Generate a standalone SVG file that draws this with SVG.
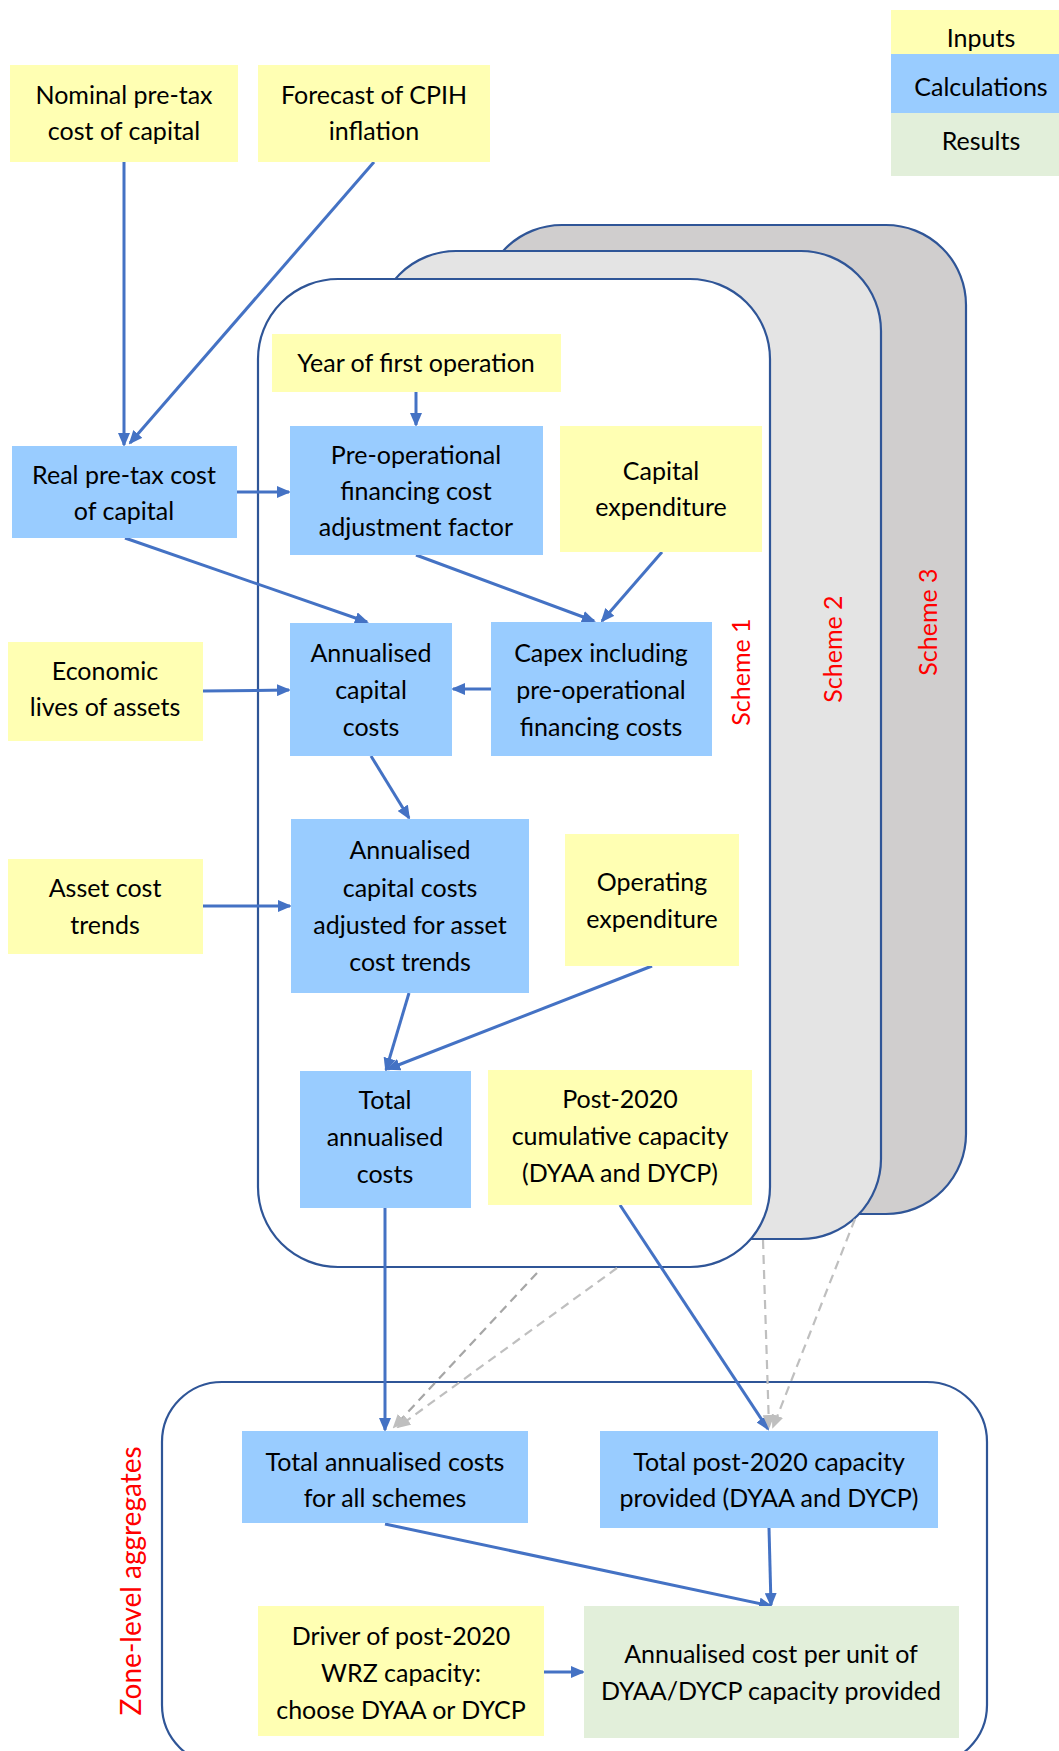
<svg xmlns="http://www.w3.org/2000/svg" width="1059" height="1751" viewBox="0 0 1059 1751">
<defs>
<style>
.in{fill:#ffffb3}
.calc{fill:#99ccff}
.res{fill:#e2efda}
.t{font-family:Lato,"Liberation Sans",sans-serif;font-size:25px;fill:#000;text-anchor:middle}
.red{font-family:Lato,"Liberation Sans",sans-serif;font-size:25px;fill:#ff0000;text-anchor:middle}
.frame{stroke:#2f5597;stroke-width:2.2}
.c{stroke:#4472c4;stroke-width:3;fill:none;marker-end:url(#ah)}
.d{stroke:#bfbfbf;stroke-width:2.2;stroke-dasharray:9 6;fill:none;marker-end:url(#gh)}
.d2{stroke:#a6a6a6;stroke-width:2.2;stroke-dasharray:9 6;fill:none;marker-end:url(#gh)}
</style>
<marker id="ah" viewBox="0 0 14 12" refX="12" refY="6" markerWidth="14" markerHeight="12" markerUnits="userSpaceOnUse" orient="auto">
<path d="M0,0 L14,6 L0,12 z" fill="#4472c4"/>
</marker>
<marker id="gh" viewBox="0 0 14 12" refX="12" refY="6" markerWidth="14" markerHeight="12" markerUnits="userSpaceOnUse" orient="auto">
<path d="M0,0 L14,6 L0,12 z" fill="#bfbfbf"/>
</marker>
</defs>
<rect width="1059" height="1751" fill="#fff"/>

<g id="legend">
<rect class="in" x="891" y="10" width="180" height="44"/>
<rect class="calc" x="891" y="54" width="180" height="59"/>
<rect class="res" x="891" y="113" width="180" height="63"/>
<text class="t" x="981" y="47">Inputs</text>
<text class="t" x="981" y="96">Calculations</text>
<text class="t" x="981" y="150">Results</text>
</g>

<g id="scheme3"><rect class="frame" x="482" y="225" width="484" height="989" rx="80" fill="#d0cece"/>
<text class="red" transform="translate(937,622) rotate(-90)">Scheme 3</text></g>
<g id="scheme2"><rect class="frame" x="376" y="251" width="505" height="988" rx="80" fill="#e4e4e4"/>
<text class="red" transform="translate(842,649) rotate(-90)">Scheme 2</text></g>
<g id="scheme1"><rect class="frame" x="258" y="279" width="512" height="988" rx="80" fill="#fff"/>
<text class="red" transform="translate(750,672) rotate(-90)">Scheme 1</text></g>
<g id="zone"><rect class="frame" x="162" y="1382" width="825" height="383" rx="60" fill="none"/>
<text class="red" style="font-size:28px" transform="translate(141,1581) rotate(-90)">Zone-level aggregates</text></g>

<g id="connectors">
<line class="c" x1="124" y1="162" x2="124" y2="445"/>
<line class="c" x1="374" y1="162" x2="130" y2="443"/>
<line class="c" x1="416" y1="392" x2="416" y2="425"/>
<line class="c" x1="237" y1="492" x2="289" y2="492"/>
<line class="c" x1="125" y1="538" x2="367" y2="622"/>
<line class="c" x1="416" y1="555" x2="594" y2="621"/>
<line class="c" x1="662" y1="552" x2="602" y2="621"/>
<line class="c" x1="203" y1="691" x2="289" y2="690"/>
<line class="c" x1="491" y1="689" x2="453" y2="689"/>
<line class="c" x1="371" y1="756" x2="409" y2="818"/>
<line class="c" x1="203" y1="906" x2="290" y2="906"/>
<line class="c" x1="409" y1="993" x2="386" y2="1070"/>
<line class="c" x1="652" y1="966" x2="388" y2="1069"/>
<line class="c" x1="385" y1="1208" x2="385" y2="1430"/>
<line class="c" x1="620" y1="1205" x2="768" y2="1429"/>
<line class="c" x1="385" y1="1524" x2="771" y2="1606"/>
<line class="c" x1="769" y1="1528" x2="771" y2="1605"/>
<line class="c" x1="544" y1="1672" x2="583" y2="1672"/>
<line class="d2" x1="537" y1="1273" x2="394" y2="1427"/>
<line class="d" x1="617" y1="1268" x2="398" y2="1427"/>
<line class="d" x1="763" y1="1240" x2="769" y2="1427"/>
<line class="d" x1="855" y1="1219" x2="773" y2="1427"/>
</g>

<g id="nominal"><rect class="in" x="10" y="65" width="228" height="97"/>
<text class="t" x="124" y="104">Nominal pre-tax</text><text class="t" x="124" y="140">cost of capital</text></g>
<g id="forecast"><rect class="in" x="258" y="65" width="232" height="97"/>
<text class="t" x="374" y="104">Forecast of CPIH</text><text class="t" x="374" y="140">inflation</text></g>
<g id="real"><rect class="calc" x="12" y="446" width="225" height="92"/>
<text class="t" x="124" y="484">Real pre-tax cost</text><text class="t" x="124" y="520">of capital</text></g>
<g id="year"><rect class="in" x="272" y="334" width="289" height="58"/>
<text class="t" x="416" y="372">Year of first operation</text></g>
<g id="preop"><rect class="calc" x="290" y="426" width="253" height="129"/>
<text class="t" x="416" y="464">Pre-operational</text><text class="t" x="416" y="500">financing cost</text><text class="t" x="416" y="536">adjustment factor</text></g>
<g id="capex"><rect class="in" x="560" y="426" width="202" height="126"/>
<text class="t" x="661" y="480">Capital</text><text class="t" x="661" y="516">expenditure</text></g>
<g id="annualised"><rect class="calc" x="290" y="623" width="162" height="133"/>
<text class="t" x="371" y="662">Annualised</text><text class="t" x="371" y="699">capital</text><text class="t" x="371" y="736">costs</text></g>
<g id="capexincl"><rect class="calc" x="491" y="622" width="221" height="134"/>
<text class="t" x="601" y="662">Capex including</text><text class="t" x="601" y="699">pre-operational</text><text class="t" x="601" y="736">financing costs</text></g>
<g id="economic"><rect class="in" x="8" y="642" width="195" height="99"/>
<text class="t" x="105" y="680">Economic</text><text class="t" x="105" y="716">lives of assets</text></g>
<g id="asset"><rect class="in" x="8" y="859" width="195" height="95"/>
<text class="t" x="105" y="897">Asset cost</text><text class="t" x="105" y="934">trends</text></g>
<g id="adjusted"><rect class="calc" x="291" y="819" width="238" height="174"/>
<text class="t" x="410" y="859">Annualised</text><text class="t" x="410" y="897">capital costs</text><text class="t" x="410" y="934">adjusted for asset</text><text class="t" x="410" y="971">cost trends</text></g>
<g id="opex"><rect class="in" x="565" y="834" width="174" height="132"/>
<text class="t" x="652" y="891">Operating</text><text class="t" x="652" y="928">expenditure</text></g>
<g id="total"><rect class="calc" x="300" y="1071" width="171" height="137"/>
<text class="t" x="385" y="1109">Total</text><text class="t" x="385" y="1146">annualised</text><text class="t" x="385" y="1183">costs</text></g>
<g id="post2020"><rect class="in" x="488" y="1070" width="264" height="135"/>
<text class="t" x="620" y="1108">Post-2020</text><text class="t" x="620" y="1145">cumulative capacity</text><text class="t" x="620" y="1182">(DYAA and DYCP)</text></g>
<g id="totalall"><rect class="calc" x="242" y="1431" width="286" height="92"/>
<text class="t" x="385" y="1471">Total annualised costs</text><text class="t" x="385" y="1507">for all schemes</text></g>
<g id="totalpost"><rect class="calc" x="600" y="1431" width="338" height="97"/>
<text class="t" x="769" y="1471">Total post-2020 capacity</text><text class="t" x="769" y="1507">provided (DYAA and DYCP)</text></g>
<g id="driver"><rect class="in" x="258" y="1606" width="286" height="130"/>
<text class="t" x="401" y="1645">Driver of post-2020</text><text class="t" x="401" y="1682">WRZ capacity:</text><text class="t" x="401" y="1719">choose DYAA or DYCP</text></g>
<g id="result"><rect class="res" x="584" y="1606" width="375" height="132"/>
<text class="t" x="771" y="1663">Annualised cost per unit of</text><text class="t" x="771" y="1700">DYAA/DYCP capacity provided</text></g>
</svg>
